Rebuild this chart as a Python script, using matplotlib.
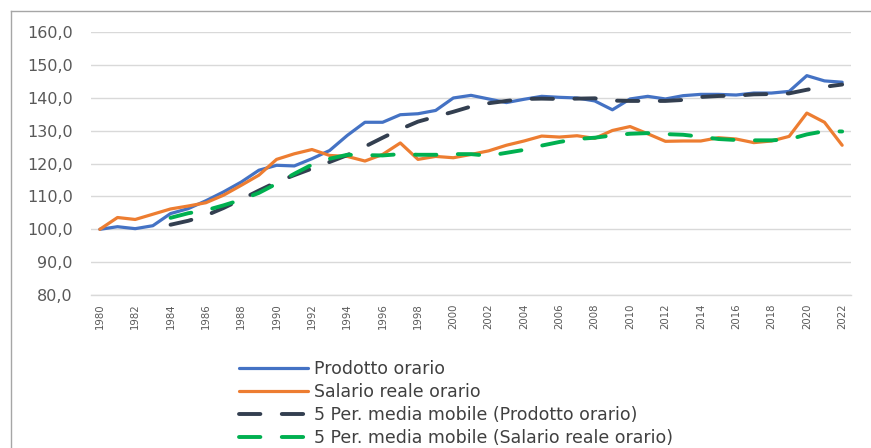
import matplotlib
matplotlib.use("Agg")
import matplotlib.pyplot as plt
from matplotlib.lines import Line2D

years = list(range(1980, 2023))
prodotto = [100.0, 100.8, 100.2, 101.1, 104.8, 106.3, 108.7, 111.4, 114.4, 118.0,
            119.5, 119.3, 121.5, 124.0, 128.6, 132.6, 132.6, 134.9, 135.2, 136.2,
            140.0, 140.8, 139.7, 138.6, 139.6, 140.5, 140.2, 140.0, 139.1, 136.4,
            139.7, 140.5, 139.7, 140.7, 141.1, 141.1, 140.9, 141.5, 141.5, 142.0,
            146.8, 145.2, 144.8]
salario = [100.0, 103.6, 103.0, 104.6, 106.2, 107.1, 108.1, 110.4, 113.4, 116.5,
           121.3, 123.0, 124.3, 122.5, 122.2, 120.8, 122.8, 126.3, 121.3, 122.2,
           121.8, 122.8, 123.9, 125.6, 126.9, 128.4, 128.1, 128.5, 127.7, 130.1,
           131.3, 129.1, 126.8, 126.9, 126.9, 127.9, 127.5, 126.4, 126.9, 128.3,
           135.4, 132.6, 125.6]
ma_years = list(range(1984, 2023))
ma_prodotto = [101.4, 102.6, 104.2, 106.5, 109.1, 111.8, 114.4, 116.5, 118.5, 120.5,
               122.6, 125.2, 127.9, 130.5, 132.8, 134.3, 135.8, 137.4, 138.4, 139.1,
               139.7, 139.8, 139.7, 139.8, 139.9, 139.2, 139.1, 139.1, 139.1, 139.4,
               140.3, 140.6, 140.7, 141.1, 141.2, 141.4, 142.5, 143.4, 144.1]
ma_salario = [103.5, 104.9, 105.8, 107.3, 109.0, 111.1, 113.9, 116.9, 119.7, 121.5,
              122.7, 122.6, 122.5, 122.9, 122.7, 122.7, 122.9, 122.9, 122.4, 123.3,
              124.2, 125.5, 126.6, 127.5, 127.9, 128.6, 129.1, 129.3, 129.0, 128.8,
              128.2, 127.5, 127.2, 127.1, 127.1, 127.4, 128.9, 129.9, 129.8]
labels = ["Prodotto orario", "Salario reale orario",
          "5 Per. media mobile (Prodotto orario)",
          "5 Per. media mobile (Salario reale orario)"]
y_ticks = [80, 90, 100, 110, 120, 130, 140, 150, 160]
x_ticks = list(range(1980, 2023, 2))

plt.rcParams['font.family'] = ['DejaVu Sans']

W, H = 871, 448
fig = plt.figure(figsize=(W / 100, H / 100), dpi=100)

# outer chart border (top and left edges visible)
top_y = 1 - 11.5 / H
left_x = 10.5 / W
fig.add_artist(Line2D([left_x, 1.0], [top_y, top_y], transform=fig.transFigure,
                      color='#a6a6a6', linewidth=1.0))
fig.add_artist(Line2D([left_x, left_x], [0.0, top_y], transform=fig.transFigure,
                      color='#a6a6a6', linewidth=1.0))

ax = fig.add_axes([91 / W, (H - 295) / H, (851 - 91) / W, (295 - 32.3) / H])

ax.plot(years, prodotto, color='#4472C4', linewidth=2.3, label=labels[0],
        solid_capstyle='round', solid_joinstyle='round')
ax.plot(years, salario, color='#ED7D31', linewidth=2.3, label=labels[1],
        solid_capstyle='round', solid_joinstyle='round')
ax.plot(ma_years, ma_prodotto, color='#333F50', linewidth=2.8,
        linestyle=(0, (5.5, 5.5)), dash_capstyle='round', label=labels[2])
ax.plot(ma_years, ma_salario, color='#00B050', linewidth=2.8,
        linestyle=(0, (5.5, 5.5)), dash_capstyle='round', label=labels[3])

ax.set_xlim(1979.5, 2022.5)
ax.set_ylim(80, 160)
ax.set_yticks(y_ticks)
ax.set_yticklabels([f"{v:.1f}".replace('.', ',') for v in y_ticks],
                   fontsize=11.5, color='#595959')
ax.set_xticks(x_ticks)
ax.set_xticklabels([str(x) for x in x_ticks], rotation=90, fontsize=7.3,
                   color='#595959')
ax.tick_params(axis='y', length=0, pad=13)
ax.tick_params(axis='x', length=0, pad=6)
ax.grid(axis='y', color='#d9d9d9', linewidth=1.0)
ax.set_axisbelow(True)
for s in ['top', 'right', 'left']:
    ax.spines[s].set_visible(False)
ax.spines['bottom'].set_color('#d9d9d9')
ax.spines['bottom'].set_linewidth(1.0)

leg = fig.legend(loc='upper left', bbox_to_anchor=(239 / W, 1 - 360 / H),
                 frameon=False, fontsize=12.5, handlelength=4.0,
                 handletextpad=0.3, labelspacing=0.28, borderpad=0,
                 borderaxespad=0)
for t in leg.get_texts():
    t.set_color('#404040')

fig.savefig('out.png', dpi=100)
